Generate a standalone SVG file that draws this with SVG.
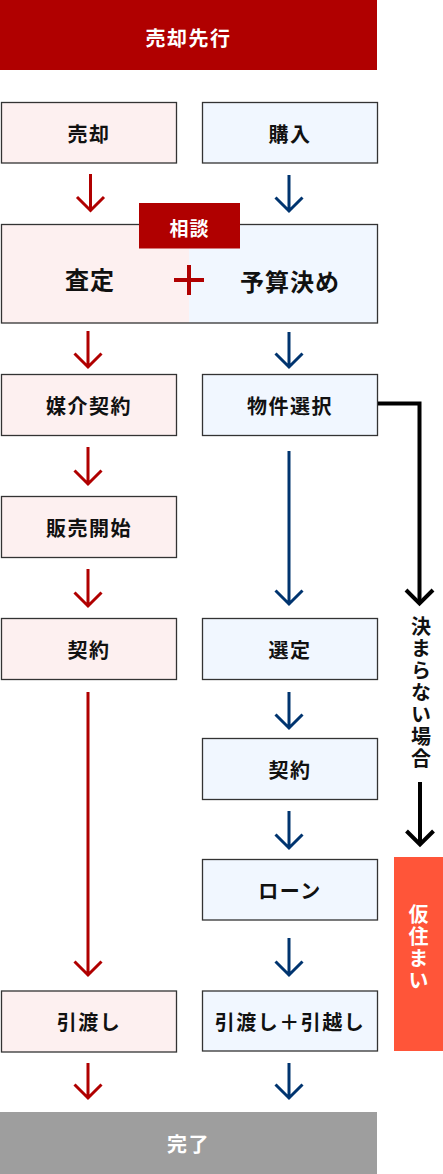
<svg xmlns="http://www.w3.org/2000/svg" width="443" height="1174" viewBox="0 0 443 1174">
<style>
text{font-family:"Noto Sans CJK JP","Noto Sans",sans-serif;font-weight:700;text-anchor:middle;dominant-baseline:central}
.lbl{font-size:20px;letter-spacing:1.5px;fill:#111}
.big{font-size:24px;letter-spacing:1px;fill:#111}
.wt{fill:#fff}
.sell{fill:#fdf0f0;stroke:#333;stroke-width:1.3}
.buy{fill:#f1f7ff;stroke:#333;stroke-width:1.3}
.ar{fill:none;stroke-width:3}
.r{stroke:#b00000}
.b{stroke:#00346f}
.k{fill:none;stroke:#000;stroke-width:4}
.vt{writing-mode:vertical-rl;text-anchor:start;dominant-baseline:central;font-size:20px;letter-spacing:2px}
</style>
<g id="banner"><rect x="0" y="0" width="377" height="70" fill="#b00000"/><text class="lbl wt" x="188.5" y="37">売却先行</text></g>
<g id="sell"><rect class="sell" x="1.5" y="102.5" width="175" height="60.5"/><text class="lbl" x="89" y="133">売却</text></g>
<g id="buy"><rect class="buy" x="202.5" y="102.5" width="175" height="60.5"/><text class="lbl" x="290" y="133">購入</text></g>
<g id="assess">
<rect x="1.5" y="224.5" width="187.5" height="98.5" fill="#fdf0f0"/>
<rect x="189" y="224.5" width="188.5" height="98.5" fill="#f1f7ff"/>
<rect x="1.5" y="224.5" width="376" height="98.5" fill="none" stroke="#333" stroke-width="1.3"/>
<text class="big" x="90" y="278">査定</text>
<path d="M174 280 H204 M189 265 V295" stroke="#b00000" stroke-width="4" fill="none"/>
<text class="big" x="290" y="280">予算決め</text>
</g>
<g id="consult"><rect x="139" y="203" width="101" height="45.5" fill="#b00000"/><text class="wt" x="189.5" y="227" font-size="19" letter-spacing="1">相談</text></g>
<g id="mediation"><rect class="sell" x="1.5" y="374.5" width="175" height="61"/><text class="lbl" x="89" y="405">媒介契約</text></g>
<g id="select"><rect class="buy" x="202.5" y="374.5" width="175" height="61"/><text class="lbl" x="290" y="405">物件選択</text></g>
<g id="sale"><rect class="sell" x="1.5" y="496.5" width="175" height="61"/><text class="lbl" x="89" y="527">販売開始</text></g>
<g id="contract-sell"><rect class="sell" x="1.5" y="618.5" width="175" height="61"/><text class="lbl" x="89" y="649">契約</text></g>
<g id="decided"><rect class="buy" x="202.5" y="618.5" width="175" height="61"/><text class="lbl" x="290" y="649">選定</text></g>
<g id="contract-buy"><rect class="buy" x="202.5" y="738.5" width="175" height="61"/><text class="lbl" x="290" y="769">契約</text></g>
<g id="loan"><rect class="buy" x="202.5" y="859.5" width="175" height="60.5"/><text class="lbl" x="290" y="890">ローン</text></g>
<g id="handover-sell"><rect class="sell" x="1.5" y="991" width="175" height="61"/><text class="lbl" x="89" y="1021">引渡し</text></g>
<g id="handover-buy"><rect class="buy" x="202.5" y="991" width="175" height="60"/><text class="lbl" x="290" y="1021">引渡し＋引越し</text></g>
<g id="temp"><rect x="394" y="857" width="49" height="194" fill="#ff5539"/><text class="vt wt" x="418.5" y="904">仮住まい</text></g>
<g id="done"><rect x="0" y="1112" width="377" height="62" fill="#9e9e9e"/><text class="lbl wt" x="188.5" y="1143">完了</text></g>
<g id="connectors">
<path class="ar r" d="M90.5 174 V210 M77 197 L90.5 210.5 L104 197"/>
<path class="ar b" d="M289 175 V211 M275.5 197.5 L289 211 L302.5 197.5"/>
<path class="ar r" d="M88 331 V367 M74.5 353.5 L88 367 L101.5 353.5"/>
<path class="ar b" d="M289 332 V367 M275.5 353.5 L289 367 L302.5 353.5"/>
<path class="ar r" d="M88 447 V484 M74.5 470.5 L88 484 L101.5 470.5"/>
<path class="ar r" d="M88 569 V606 M74.5 592.5 L88 606 L101.5 592.5"/>
<path class="ar r" d="M88 692 V975 M74.5 961.5 L88 975 L101.5 961.5"/>
<path class="ar b" d="M289 451 V604 M275.5 590.5 L289 604 L302.5 590.5"/>
<path class="ar b" d="M289 692 V728 M275.5 714.5 L289 728 L302.5 714.5"/>
<path class="ar b" d="M289 811 V848 M275.5 834.5 L289 848 L302.5 834.5"/>
<path class="ar b" d="M289 938 V975 M275.5 961.5 L289 975 L302.5 961.5"/>
<path class="ar r" d="M88 1063 V1098 M74.5 1084.5 L88 1098 L101.5 1084.5"/>
<path class="ar b" d="M289 1063 V1098 M275.5 1084.5 L289 1098 L302.5 1084.5"/>
<path class="k" d="M378 403.5 H419.5 V603"/>
<path class="k" d="M406 590 L419.5 603.5 L433 590"/>
<text class="vt" x="421" y="616" fill="#111">決まらない場合</text>
<path class="k" d="M420 782 V844"/>
<path class="k" d="M406.5 831 L420 844.5 L433.5 831"/>
</g>
</svg>
